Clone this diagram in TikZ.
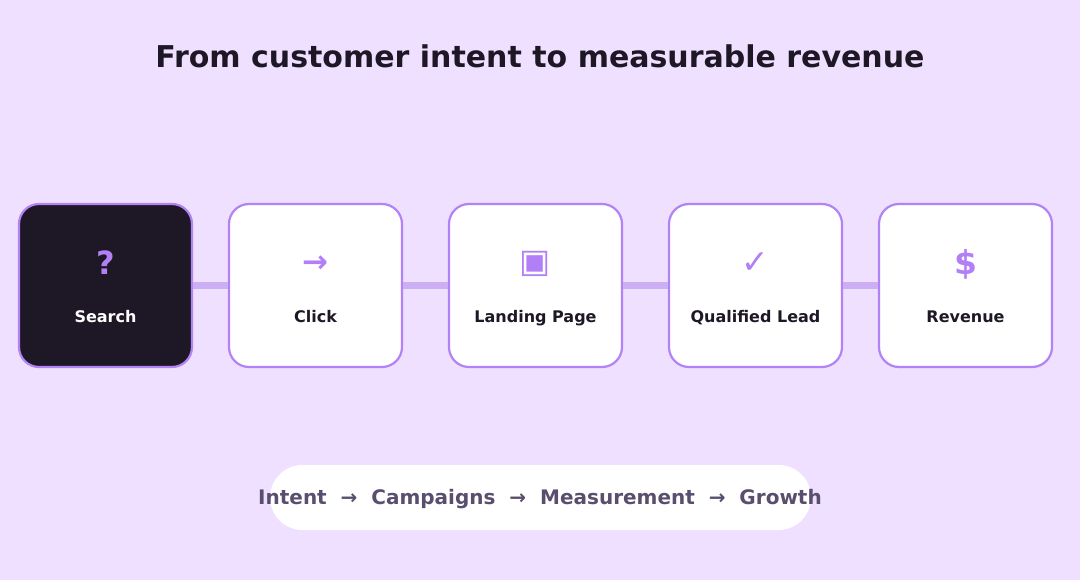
\documentclass[tikz,border=0pt]{standalone}
\usepackage{fontspec}
\setmainfont{DejaVu Sans}
\newfontfamily\djb{DejaVu Sans Bold}
\newfontfamily\djr{DejaVu Sans}
\definecolor{bg}{HTML}{EFE0FF}
\definecolor{edge}{HTML}{B283F7}
\definecolor{link}{HTML}{CCAEF5}
\definecolor{ink}{HTML}{1E1826}
\definecolor{icon}{HTML}{B27FF7}
\definecolor{muted}{HTML}{5A4E6E}
\begin{document}
\begin{tikzpicture}[x=1pt,y=-1pt,
  stage/.style={draw=edge,line width=2.2pt,fill=white,rounded corners=20pt,minimum width=173pt,minimum height=163pt,inner sep=0pt},
  darkstage/.style={stage,fill=ink},
  ico/.style={text=icon,inner sep=0pt},
  lbl/.style={font=\djb\fontsize{16}{18}\selectfont,text=ink,inner sep=0pt,anchor=base},
  linkline/.style={draw=link,line width=7pt}]
\fill[bg] (0,0) rectangle (1080,580);
\useasboundingbox (0,0) rectangle (1080,580);
\node[font=\djb\fontsize{30}{34}\selectfont,text=ink] (title) at (540,56) {From customer intent to measurable revenue};
\node[darkstage] (s1) at (105.5,285.5) {};
\node[stage] (s2) at (315.5,285.5) {};
\node[stage] (s3) at (535.5,285.5) {};
\node[stage] (s4) at (755.5,285.5) {};
\node[stage] (s5) at (965.5,285.5) {};
\draw[linkline] (s1.east) -- (s2.west);
\draw[linkline] (s2.east) -- (s3.west);
\draw[linkline] (s3.east) -- (s4.west);
\draw[linkline] (s4.east) -- (s5.west);
\node[ico,font=\djb\fontsize{32}{36}\selectfont] (i1) at (105.5,262.5) {?};
\node[ico,font=\djb\fontsize{31}{36}\selectfont] (i2) at (315.5,264) {→};
\node[ico,font=\djr\fontsize{33}{36}\selectfont] (i3) at (535.5,264) {▣};
\node[ico,font=\djr\fontsize{33}{36}\selectfont] (i4) at (755,263.5) {✓};
\node[ico,font=\djb\fontsize{33}{36}\selectfont] (i5) at (965.5,264) {\$};
\node[lbl,text=white] (l1) at (105.5,322.5) {Search};
\node[lbl] (l2) at (315.5,322.5) {Click};
\node[lbl] (l3) at (535.5,322.5) {Landing Page};
\node[lbl] (l4) at (755.5,322.5) {Qualified Lead};
\node[lbl] (l5) at (965.5,322.5) {Revenue};
\node[fill=white,draw=none,rounded corners=32.5pt,minimum width=541pt,minimum height=65pt,inner sep=0pt] (pill) at (540.5,497.5) {};
\node[font=\djb\fontsize{20}{22}\selectfont,text=muted,inner sep=0pt,anchor=base] (flow) at (540,504.5) {Intent \ → \ Campaigns \ → \ Measurement \ → \ Growth};
\end{tikzpicture}
\end{document}
